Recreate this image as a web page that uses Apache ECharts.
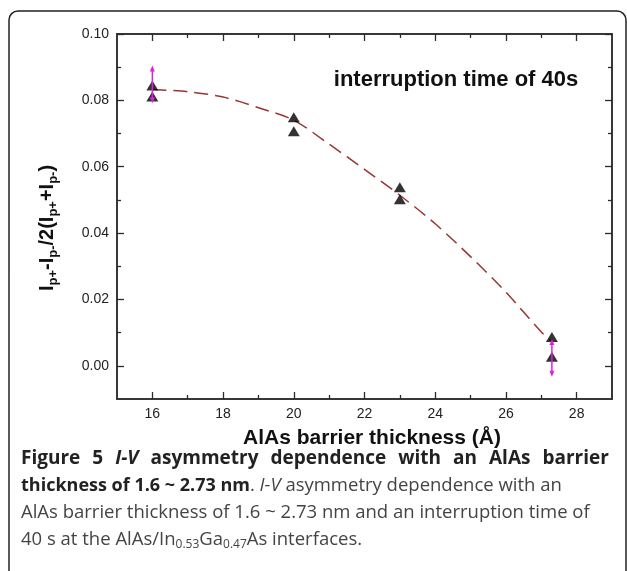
<!DOCTYPE html>
<html>
<head>
<meta charset="utf-8">
<script src="https://cdn.jsdelivr.net/npm/echarts@6.0.0/dist/echarts.min.js"></script>
<style>
  html, body { margin: 0; padding: 0; background: #fff; }
  #chart { width: 627px; height: 571px; }
</style>
</head>
<body>
<div id="chart"></div>
<script>
    // measured points (black triangles)
    const pointX = [16, 16, 20, 20, 23, 23, 27.3, 27.3];
    const pointY = [0.0845, 0.0812, 0.0749, 0.0707, 0.0538, 0.0502, 0.0087, 0.0027];

    // fitted curve
    const fitX = [16, 17, 18, 19, 20, 21, 22, 23, 24, 25, 26, 27, 27.3];
    const fitY = [0.0833, 0.0826, 0.0810, 0.0778, 0.0740, 0.0668, 0.0592, 0.0514, 0.0428, 0.0329, 0.0222, 0.0102, 0.0074];

    // magenta error bars: x, low, high
    const errX = [16, 27.3];
    const errLow = [0.0800, -0.0024];
    const errHigh = [0.0896, 0.0072];

    const xTicks = [16, 18, 20, 22, 24, 26, 28];
    const xMinor = [17, 19, 21, 23, 25, 27];
    const yTicks = [0, 0.02, 0.04, 0.06, 0.08, 0.10];
    const yMinor = [0.01, 0.03, 0.05, 0.07, 0.09];

    const axisColor = '#2b2b2b';

    function makeAxis(position, min, max, values, tickLen, withLabel) {
        return {
            type: 'value',
            position: position,
            min: min,
            max: max,
            axisLine: { show: true, onZero: false, lineStyle: { color: axisColor, width: 1.5 } },
            axisTick: {
                show: true, inside: true, length: tickLen, customValues: values,
                lineStyle: { color: axisColor, width: 1.3 }
            },
            axisLabel: withLabel ? {
                show: true, customValues: values, color: '#222', fontSize: 14,
                fontFamily: 'Arial, "Liberation Sans"', margin: 8,
                formatter: function (v) {
                    return position === 'left' ? v.toFixed(2) : String(v);
                }
            } : { show: false },
            splitLine: { show: false }
        };
    }

    const xAxes = [
        makeAxis('bottom', 15, 29, xTicks, 7, true),
        makeAxis('bottom', 15, 29, xMinor, 4, false),
        makeAxis('top', 15, 29, xTicks, 7, false),
        makeAxis('top', 15, 29, xMinor, 4, false)
    ];
    const yAxes = [
        makeAxis('left', -0.01, 0.10, yTicks, 7, true),
        makeAxis('left', -0.01, 0.10, yMinor, 4, false),
        makeAxis('right', -0.01, 0.10, yTicks, 7, false),
        makeAxis('right', -0.01, 0.10, yMinor, 4, false)
    ];

    const errSeries = errX.map(function (x, i) {
        return {
            type: 'line',
            z: 5,
            silent: true,
            color: '#e020e0',
            lineStyle: { color: '#e020e0', width: 1.5 },
            symbol: 'triangle',
            symbolSize: [5, 6],
            itemStyle: { color: '#e020e0' },
            data: [
                { value: [x, errLow[i]], symbolRotate: 180 },
                { value: [x, errHigh[i]], symbolRotate: 0 }
            ]
        };
    });

    const plotFont = 'Arial, "Liberation Sans"';
    const capFont = '"Open Sans"';

    // first caption line is justified: words joined by wide gap tokens
    const line1 = '{b|Figure}{g|}{b|5}{g|}{bi|I-V}{g|}{b|asymmetry}{g|}{b|dependence}{g|}{b|with}{g|}{b|an}{g|}{b|AlAs}{g|}{b|barrier}';

    const option = {
        backgroundColor: '#fff',
        animation: false,
        grid: { left: 117, top: 34, right: 15, bottom: 172 },
        xAxis: xAxes,
        yAxis: yAxes,
        series: [
            {
                type: 'line',
                z: 3,
                data: fitX.map(function (x, i) { return [x, fitY[i]]; }),
                smooth: 0.3,
                showSymbol: false,
                lineStyle: { color: '#9b3434', width: 1.5, type: [14, 7] }
            },
            {
                type: 'scatter',
                z: 4,
                data: pointX.map(function (x, i) { return [x, pointY[i]]; }),
                symbol: 'triangle',
                symbolSize: [12, 10],
                itemStyle: { color: '#000' }
            }
        ].concat(errSeries),
        graphic: [
            {
                type: 'rect',
                shape: { x: 9, y: 11, width: 617, height: 620, r: 9 },
                style: { fill: 'none', stroke: '#222', lineWidth: 1.5 }
            },
            {
                type: 'text',
                x: 456, y: 80,
                style: {
                    text: 'interruption time of 40s',
                    font: 'bold 22px ' + plotFont,
                    fill: '#111',
                    align: 'center',
                    verticalAlign: 'middle'
                }
            },
            {
                type: 'text',
                x: 372, y: 438,
                style: {
                    text: 'AlAs barrier thickness (Å)',
                    font: 'bold 21px ' + plotFont,
                    fill: '#111',
                    align: 'center',
                    verticalAlign: 'middle'
                }
            },
            {
                type: 'text',
                x: 47, y: 228,
                rotation: Math.PI / 2,
                style: {
                    text: '{m|I}{s|p+}{m|-I}{s|p-}{m|/2(I}{s|p+}{m|+I}{s|p-}{m|)}',
                    align: 'center',
                    verticalAlign: 'middle',
                    rich: {
                        m: { font: 'bold 20px ' + plotFont, fill: '#111', lineHeight: 26 },
                        s: { font: 'bold 13px ' + plotFont, fill: '#111', lineHeight: 13, verticalAlign: 'bottom' }
                    }
                }
            },
            {
                type: 'text',
                x: 21, y: 459,
                style: {
                    text: line1,
                    verticalAlign: 'middle',
                    rich: {
                        b: { font: 'bold 19px ' + capFont, fill: '#222' },
                        bi: { font: 'italic bold 19px ' + capFont, fill: '#222' },
                        g: { width: 12 }
                    }
                }
            },
            {
                type: 'text',
                x: 21, y: 486,
                style: {
                    text: '{b|thickness of 1.6 ~ 2.73 nm}{r|. }{i|I-V}{r| asymmetry dependence with an}',
                    verticalAlign: 'middle',
                    rich: {
                        b: { font: 'bold 18px ' + capFont, fill: '#222' },
                        r: { font: '18.5px ' + capFont, fill: '#444' },
                        i: { font: 'italic 18.5px ' + capFont, fill: '#444' }
                    }
                }
            },
            {
                type: 'text',
                x: 21, y: 513,
                style: {
                    text: 'AlAs barrier thickness of 1.6 ~ 2.73 nm and an interruption time of',
                    font: '18.5px ' + capFont,
                    fill: '#444',
                    verticalAlign: 'middle'
                }
            },
            {
                type: 'text',
                x: 21, y: 540,
                style: {
                    text: '{r|40 s at the AlAs/In}{s|0.53}{r|Ga}{s|0.47}{r|As interfaces.}',
                    verticalAlign: 'middle',
                    rich: {
                        r: { font: '18.5px ' + capFont, fill: '#444', lineHeight: 22 },
                        s: { font: '12px ' + capFont, fill: '#444', lineHeight: 12, verticalAlign: 'bottom' }
                    }
                }
            }
        ]
    };

    const chart = echarts.init(document.getElementById('chart'));
    chart.setOption(option);

    window.addEventListener('resize', function () {
        chart.resize();
    });
</script>
</body>
</html>
